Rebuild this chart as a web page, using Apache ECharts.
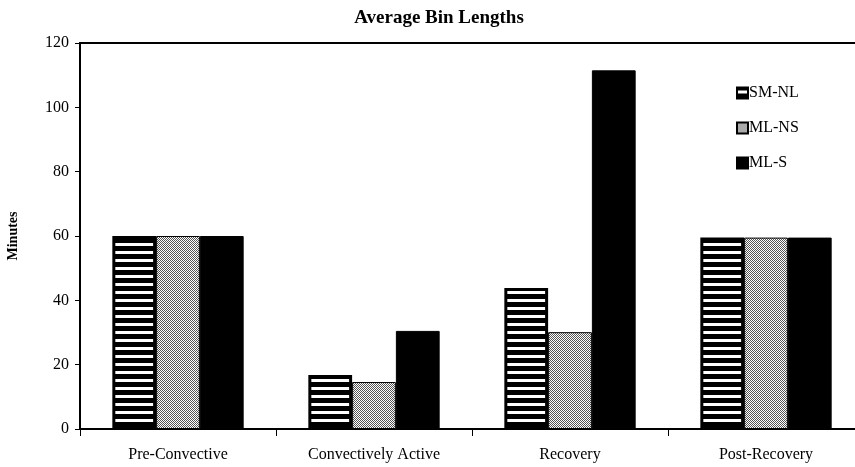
<!DOCTYPE html>
<html><head><meta charset="utf-8">
<script src="https://cdn.jsdelivr.net/npm/echarts@6/dist/echarts.min.js"></script>
<style>html,body{margin:0;padding:0;background:#fff}#c{width:855px;height:467px}</style>
</head><body><div id="c"></div>
<script>
var categories = ['Pre-Convective', 'Convectively Active', 'Recovery', 'Post-Recovery'];
var seriesNames = ['SM-NL', 'ML-NS', 'ML-S'];
var smNL = [60, 16.8, 43.8, 59.5];
var mlNS = [60, 14.6, 30.1, 59.5];
var mlS = [60, 30.5, 111.5, 59.5];

function stripes() {
  var c = document.createElement('canvas'); c.width = 8; c.height = 8;
  var g = c.getContext('2d');
  g.fillStyle = '#000'; g.fillRect(0, 0, 8, 8);
  g.fillStyle = '#fff'; g.fillRect(0, 3, 8, 3);
  return c;
}
function checker() {
  var c = document.createElement('canvas'); c.width = 2; c.height = 2;
  var g = c.getContext('2d');
  g.fillStyle = '#fff'; g.fillRect(0, 0, 2, 2);
  g.fillStyle = '#555'; g.fillRect(0, 0, 1, 1); g.fillRect(1, 1, 1, 1);
  return c;
}
var serif = '"Liberation Serif", "DejaVu Serif", serif';
var chart = echarts.init(document.getElementById('c'), null, {renderer: 'canvas'});
chart.setOption({
  animation: false,
  backgroundColor: '#fff',
  title: {text: 'Average Bin Lengths', left: 434, textAlign: 'center', top: 4,
    textStyle: {fontFamily: serif, fontSize: 19, fontWeight: 'bold', color: '#000'}},
  legend: {orient: 'vertical', left: 731, top: 80, itemWidth: 11, itemHeight: 11, itemGap: 19,
    icon: 'rect',
    textStyle: {fontFamily: serif, fontSize: 16, color: '#000', padding: [0, 0, 0, -4]},
    data: seriesNames},
  grid: {left: 80, top: 43, bottom: 38, width: 784, outerBoundsMode: 'none', show: true,
    borderColor: '#000', borderWidth: 2, containLabel: false},
  xAxis: {type: 'category', data: categories,
    axisLine: {lineStyle: {color: '#000', width: 2}},
    axisTick: {show: true, length: 7, lineStyle: {color: '#000', width: 1}},
    axisLabel: {fontFamily: serif, fontSize: 16, color: '#000', margin: 18}},
  yAxis: {type: 'value', min: 0, max: 120, interval: 20,
    name: 'Minutes', nameLocation: 'middle', nameGap: 60,
    nameTextStyle: {fontFamily: serif, fontSize: 14, fontWeight: 'bold', color: '#000'},
    axisLine: {show: true, lineStyle: {color: '#000', width: 2}},
    axisTick: {show: true, length: 5, lineStyle: {color: '#000'}},
    splitLine: {show: false},
    axisLabel: {fontFamily: serif, fontSize: 16, color: '#000', margin: 11}},
  series: [
    {name: seriesNames[0], type: 'bar', data: smNL, barGap: '0%', barCategoryGap: '33%',
      itemStyle: {color: {image: stripes(), repeat: 'repeat'}, borderColor: '#000', borderWidth: 3}},
    {name: seriesNames[1], type: 'bar', data: mlNS,
      itemStyle: {color: {image: checker(), repeat: 'repeat'}, borderColor: '#000', borderWidth: 1}},
    {name: seriesNames[2], type: 'bar', data: mlS,
      itemStyle: {color: '#000', borderColor: '#000', borderWidth: 1}}
  ]
});
</script></body></html>
